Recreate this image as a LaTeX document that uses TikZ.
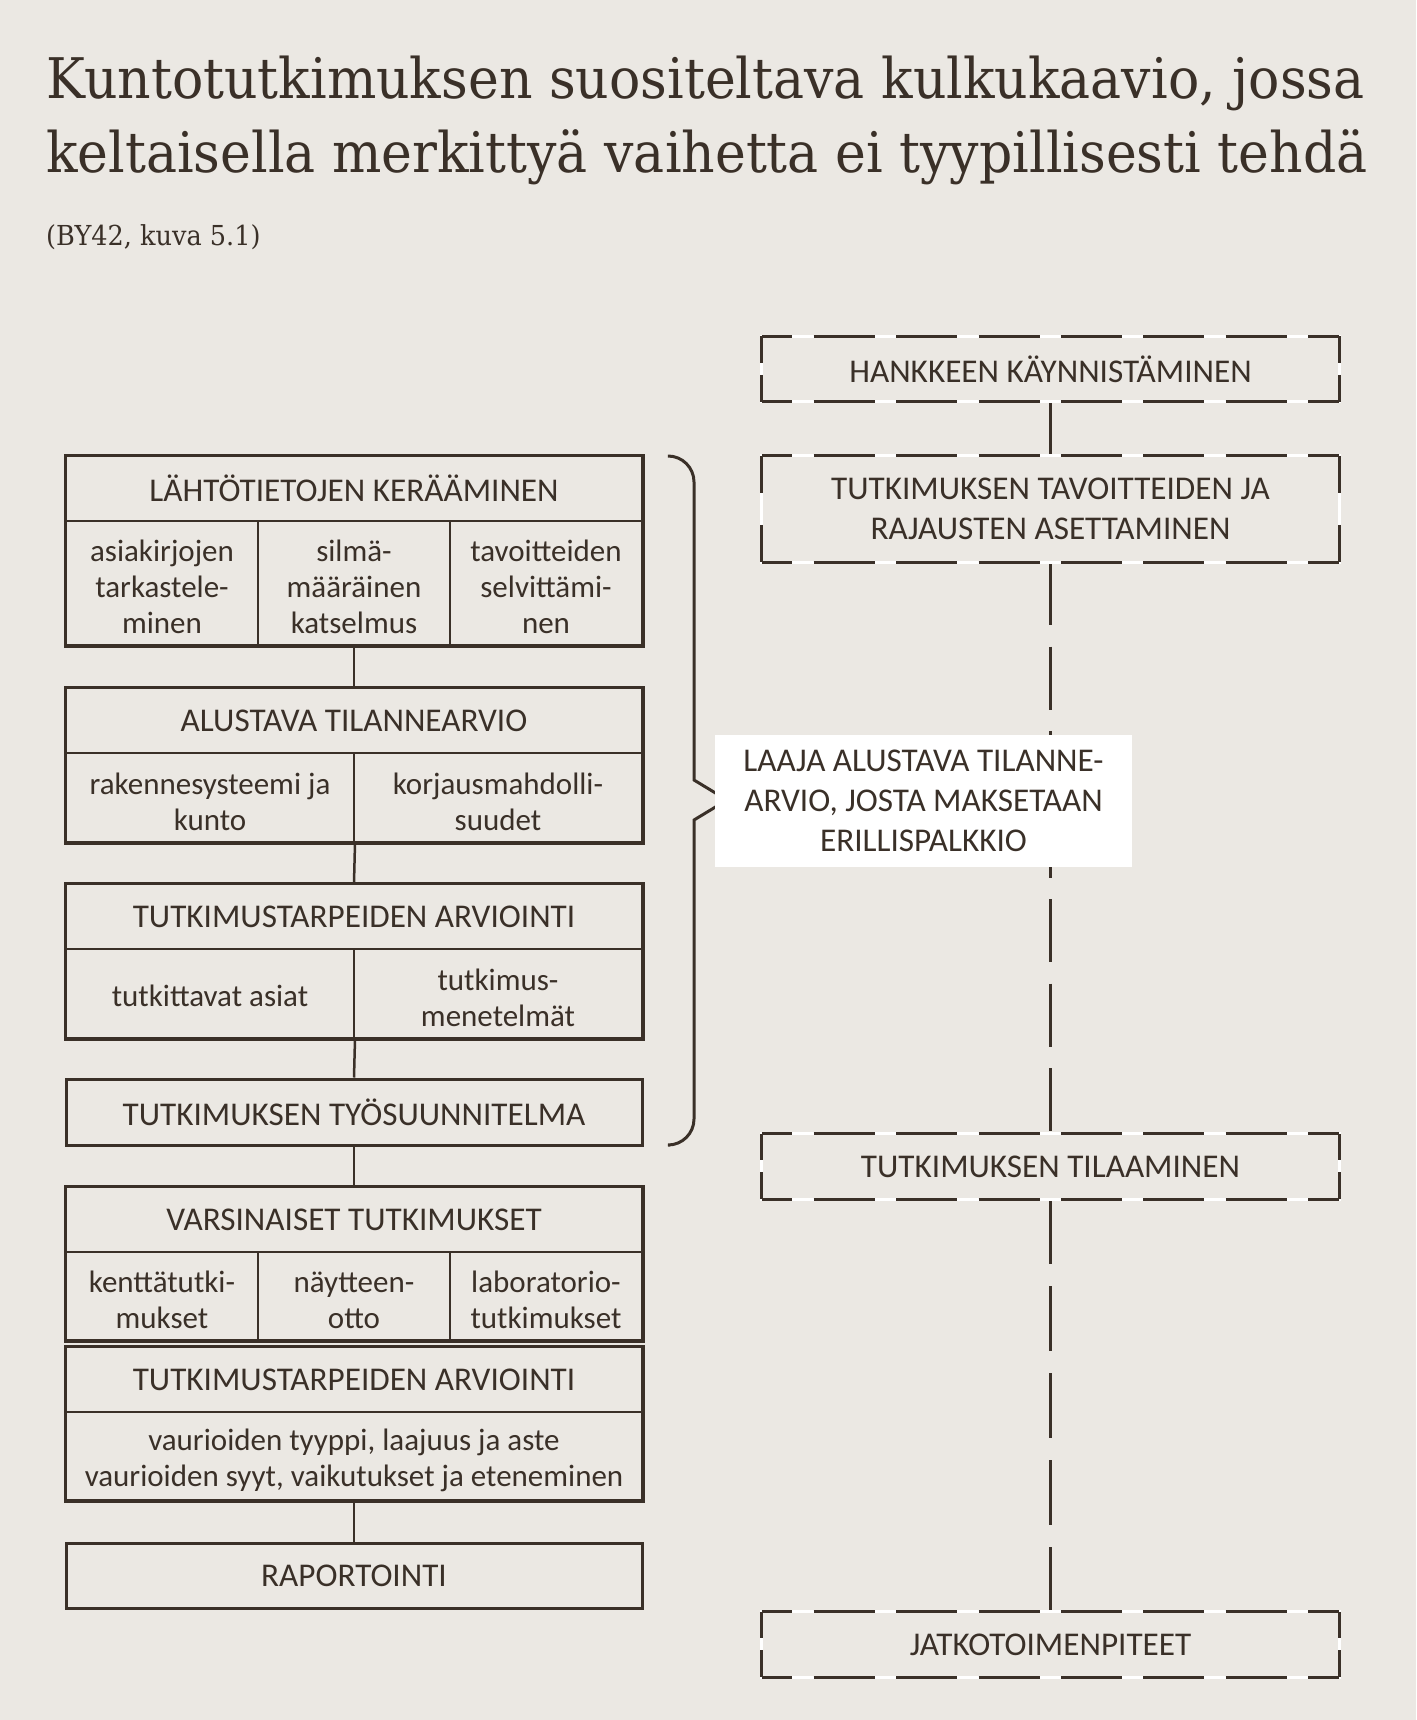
\documentclass[tikz,border=0pt]{standalone}
\usepackage{fontspec}
\setmainfont{Carlito}
\newfontfamily\titlefont[FakeStretch=0.93]{DejaVu Serif}
\definecolor{bg}{HTML}{EBE8E3}
\definecolor{ink}{HTML}{3A3028}
\tikzset{
  cell/.style={draw=ink, line width=2pt, inner sep=0pt, text=ink, align=center,
    font=\fontsize{33.2}{36}\selectfont},
  cellbox/.style={draw=ink, line width=2pt, inner sep=0pt},
  celltxt/.style={inner sep=0pt, text=ink, align=center, font=\fontsize{31}{36}\selectfont},
  outer/.style={draw=ink, line width=3pt},
  conn/.style={draw=ink, line width=2.5pt},
  dlabel/.style={inner sep=0pt, text=ink, align=center, minimum width=577pt,
    font=\fontsize{33.2}{39.5}\selectfont},
  whiteedge/.style={draw=white, line width=3pt},
  hside/.style={draw=ink, line width=3pt, dash pattern=on 61pt off 21.4pt, dash phase=30.5pt},
  vside/.style={draw=ink, line width=3pt, dash pattern=on 53pt off 12pt, dash phase=26.5pt},
  vsidetall/.style={draw=ink, line width=3pt, dash pattern=on 74pt off 32pt, dash phase=37pt},
}
\begin{document}
\begin{tikzpicture}[x=1pt,y=-1pt]
\useasboundingbox[fill=bg] (0,0) rectangle (1416,1720);

% Title
\node[anchor=base west, inner sep=0pt, text=ink, font=\titlefont\fontsize{56}{74}\selectfont] (t1) at (46,99) {Kuntotutkimuksen suositeltava kulkukaavio, jossa};
\node[anchor=base west, inner sep=0pt, text=ink, font=\titlefont\fontsize{56}{74}\selectfont] (t2) at (46,173) {keltaisella merkittyä vaihetta ei tyypillisesti tehdä};
\node[anchor=base west, inner sep=0pt, text=ink, font=\titlefont\fontsize{27.5}{34}\selectfont] (t3) at (46,246) {(BY42, kuva 5.1)};

% Box 1
\node[cell, minimum width=576pt, minimum height=65pt] (b1h) at (354,488.5) {LÄHTÖTIETOJEN KERÄÄMINEN};
\node[cellbox, minimum width=192pt, minimum height=124pt] (b1a) at (162,583) {};
\node[cellbox, minimum width=192pt, minimum height=124pt] (b1b) at (354,583) {};
\node[cellbox, minimum width=192pt, minimum height=124pt] (b1c) at (546,583) {};
\node[celltxt] (b1at) at ([yshift=-4pt]b1a.center) {asiakirjojen\\tarkastele-\\minen};
\node[celltxt] (b1bt) at ([yshift=-4pt]b1b.center) {silmä-\\määräinen\\katselmus};
\node[celltxt] (b1ct) at ([yshift=-4pt]b1c.center) {tavoitteiden\\selvittämi-\\nen};
\draw[outer] (b1h.north west) rectangle (b1c.south east);

% Box 2
\node[cell, minimum width=576pt, minimum height=65pt] (b2h) at (354,720.5) {ALUSTAVA TILANNEARVIO};
\node[cellbox, minimum width=288pt, minimum height=89pt] (b2a) at (210,797.5) {};
\node[cellbox, minimum width=288pt, minimum height=89pt] (b2b) at (498,797.5) {};
\node[celltxt] (b2at) at ([yshift=-4pt]b2a.center) {rakennesysteemi ja\\kunto};
\node[celltxt] (b2bt) at ([yshift=-4pt]b2b.center) {korjausmahdolli-\\suudet};
\draw[outer] (b2h.north west) rectangle (b2b.south east);

% Box 3
\node[cell, minimum width=576pt, minimum height=65pt] (b3h) at (354,916.5) {TUTKIMUSTARPEIDEN ARVIOINTI};
\node[cellbox, minimum width=288pt, minimum height=89pt] (b3a) at (210,993.5) {};
\node[cellbox, minimum width=288pt, minimum height=89pt] (b3b) at (498,993.5) {};
\node[celltxt] (b3at) at ([yshift=-2.5pt]b3a.center) {tutkittavat asiat};
\node[celltxt] (b3bt) at ([yshift=-4pt]b3b.center) {tutkimus-\\menetelmät};
\draw[outer] (b3h.north west) rectangle (b3b.south east);

% Box 4
\node[cell, outer, minimum width=576pt, minimum height=66pt] (b4) at (354,1112) {TUTKIMUKSEN TYÖSUUNNITELMA};

% Box 5
\node[cell, minimum width=576pt, minimum height=65pt] (b5h) at (354,1219.5) {VARSINAISET TUTKIMUKSET};
\node[cellbox, minimum width=192pt, minimum height=88pt] (b5a) at (162,1296) {};
\node[cellbox, minimum width=192pt, minimum height=88pt] (b5b) at (354,1296) {};
\node[cellbox, minimum width=192pt, minimum height=88pt] (b5c) at (546,1296) {};
\node[celltxt] (b5at) at ([yshift=-4pt]b5a.center) {kenttätutki-\\mukset};
\node[celltxt] (b5bt) at ([yshift=-4pt]b5b.center) {näytteen-\\otto};
\node[celltxt] (b5ct) at ([yshift=-4pt]b5c.center) {laboratorio-\\tutkimukset};
\draw[outer] (b5h.north west) rectangle (b5c.south east);

% Box 6
\node[cell, minimum width=576pt, minimum height=65pt] (b6h) at (354,1379.5) {TUTKIMUSTARPEIDEN ARVIOINTI};
\node[cellbox, minimum width=576pt, minimum height=88pt] (b6a) at (354,1456) {};
\node[celltxt] (b6at) at ([yshift=-4.5pt]b6a.center) {vaurioiden tyyppi, laajuus ja aste\\vaurioiden syyt, vaikutukset ja eteneminen};
\draw[outer] (b6h.north west) rectangle (b6a.south east);

% Box 7
\node[cell, outer, minimum width=576pt, minimum height=65pt] (b7) at (354,1575.5) {RAPORTOINTI};

% Left connectors
\draw[conn] (b1b.south) -- (b2h.north);
\draw[conn] (b2a.south east) -- (b3h.north);
\draw[conn] (b3a.south east) -- (b4.north);
\draw[conn] (b4.south) -- (b5h.north);
\draw[conn] (b6a.south) -- (b7.north);

% Right dashed boxes
\node[dlabel, minimum height=65pt] (d1) at (1050.5,369) {HANKKEEN KÄYNNISTÄMINEN};
\node[dlabel, minimum height=106pt] (d2) at (1050.5,509) {TUTKIMUKSEN TAVOITTEIDEN JA\\RAJAUSTEN ASETTAMINEN};
\node[dlabel, minimum height=65pt] (d3) at (1050.5,1166.5) {TUTKIMUKSEN TILAAMINEN};
\node[dlabel, minimum height=65pt] (d4) at (1050.5,1644.5) {JATKOTOIMENPITEET};

% Right connectors
\draw[conn] (d1.south) -- (d2.north);
\draw[conn, dash pattern=on 63pt off 21.3pt] (d2.south) -- (d3.north);
\draw[conn, dash pattern=on 65pt off 22pt] (d3.south) -- (d4.north);

% Dashed borders
\foreach \n in {d1,d2,d3,d4}{
  \draw[whiteedge] (\n.north west) rectangle (\n.south east);
  \draw[hside] (\n.north west) -- (\n.north east);
  \draw[hside] (\n.south west) -- (\n.south east);
}
\foreach \n in {d1,d3,d4}{
  \draw[vside] (\n.north west) -- (\n.south west);
  \draw[vside] (\n.north east) -- (\n.south east);
}
\draw[vsidetall] (d2.north west) -- (d2.south west);
\draw[vsidetall] (d2.north east) -- (d2.south east);

% Brace
\coordinate (br1) at (670,456);
\coordinate (br2) at (670,1145);
\coordinate (tip) at (727,800);
\draw[ink, line width=3pt, line join=miter]
  (br1) [rounded corners=26pt] -- (694,456) -- (694,600) [sharp corners] -- (694,780) -- (tip) -- (694,820)
  -- (694,1000) [rounded corners=26pt] -- (694,1145) -- (br2);

% Note box
\node[fill=white, inner sep=0pt, minimum width=417pt, minimum height=132pt, text=ink, align=center,
  font=\fontsize{33.2}{40}\selectfont] (note) at (923.5,801) {LAAJA ALUSTAVA TILANNE-\\ARVIO, JOSTA MAKSETAAN\\ERILLISPALKKIO};
\end{tikzpicture}
\end{document}
